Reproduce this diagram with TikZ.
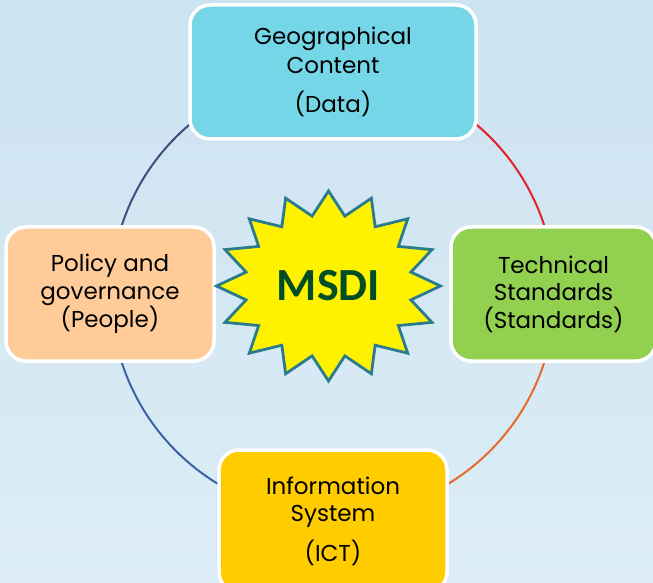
\documentclass[tikz,border=0pt]{standalone}
\usepackage{fontspec}
\usetikzlibrary{calc}
\newfontfamily\boxfont{Poppins}
\newfontfamily\msdifont{Carlito}
\definecolor{bgtop}{HTML}{CCE3F0}
\definecolor{bgbot}{HTML}{DCEDF6}
\definecolor{datafill}{HTML}{75D6E8}
\definecolor{peoplefill}{HTML}{FFCC99}
\definecolor{stdfill}{HTML}{92D050}
\definecolor{ictfill}{HTML}{FFCC00}
\definecolor{arcA}{HTML}{414C7E}
\definecolor{arcB}{HTML}{E3202C}
\definecolor{arcC}{HTML}{E8692A}
\definecolor{arcD}{HTML}{3B63A3}
\definecolor{starline}{HTML}{2A7B8E}
\definecolor{msdigreen}{HTML}{004D26}
\tikzset{
  box/.style={draw=white, line width=3.5pt, rounded corners=20pt, align=center,
    font=\boxfont\fontsize{23}{27.5}\selectfont, text=black, inner sep=0pt},
  ring/.style={line width=2pt},
  msdistar/.style={draw=starline, fill=yellow, line width=2.8pt, line join=miter},
}
\begin{document}
\begin{tikzpicture}[x=1pt,y=1pt]
\shade[top color=bgtop, bottom color=bgbot] (0,0) rectangle (653,582);
\useasboundingbox (0,0) rectangle (653,582);
\coordinate (c) at (333,288);
% ring
\draw[ring, arcA] ($(c)+(90:222)$) arc (90:180:222);
\draw[ring, arcB] ($(c)+(0:222)$) arc (0:90:222);
\draw[ring, arcC] ($(c)+(270:222)$) arc (270:360:222);
\draw[ring, arcD] ($(c)+(180:222)$) arc (180:270:222);
% boxes
\node[box, fill=datafill, minimum width=286, minimum height=134] (data) at (333,510)
  {Geographical\\[1.5pt]Content\\[12pt](Data)};
\node[box, fill=peoplefill, minimum width=208, minimum height=134] (people) at (110,288)
  {Policy and\\governance\\(People)};
\node[box, fill=stdfill, minimum width=205, minimum height=134] (std) at (553.5,288)
  {Technical\\Standards\\(Standards)};
\node[box, fill=ictfill, minimum width=228, minimum height=142] (ict) at (333,61)
  {Information\\System\\[12pt](ICT)};
% star
\coordinate (sc) at (328.5,296);
\draw[msdistar] ($(sc)+(0,95)$)
  \foreach \k [evaluate=\k as \r using {mod(\k,2)==0 ? 1 : 0.75},
               evaluate=\k as \a using {90+\k*11.25},
               evaluate=\k as \px using {cos(\a)*112*\r},
               evaluate=\k as \py using {sin(\a)*95*\r}] in {1,...,31} {
     -- ($(sc)+(\px,\py)$) } -- cycle;
\node[font=\msdifont\bfseries\fontsize{46}{46}\selectfont, text=msdigreen] (msdi) at (sc) {MSDI};
\end{tikzpicture}
\end{document}
